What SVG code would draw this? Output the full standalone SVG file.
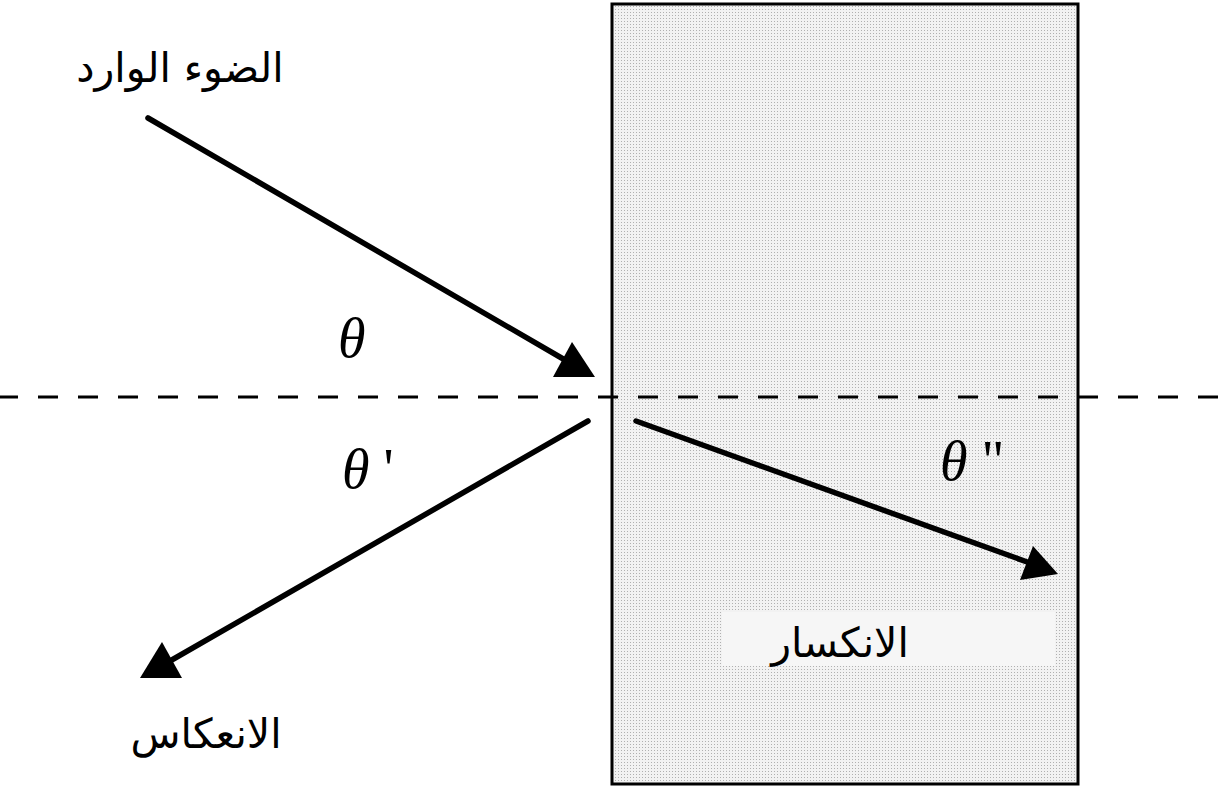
<svg xmlns="http://www.w3.org/2000/svg" width="1232" height="787" viewBox="0 0 1232 787">
<style>
.ray{stroke:#000;stroke-width:5.5;fill:none;stroke-linecap:round}
.head{fill:#000}
.ar{font-family:"DejaVu Sans",sans-serif;font-size:41px;fill:#000;text-anchor:middle}
.th{font-family:"Liberation Serif",serif;font-style:italic;font-size:56px;fill:#000}
.up{font-style:normal}
</style>
<defs>
<pattern id="dots" width="3" height="3" patternUnits="userSpaceOnUse">
<rect width="3" height="3" fill="#f2f2f2"/>
<rect width="1" height="1" fill="#b0b0b0"/>
</pattern>
</defs>
<rect width="1232" height="787" fill="#fff"/>
<g id="medium">
<rect x="612" y="4" width="466" height="780" fill="url(#dots)" stroke="#000" stroke-width="3"/>
<rect x="722" y="612" width="333" height="54" fill="#f6f6f6"/>
<text class="ar" x="840" y="657">الانكسار</text>
</g>
<g id="normal">
<line x1="0" y1="397" x2="1232" y2="397" stroke="#000" stroke-width="3" stroke-dasharray="20 20" stroke-dashoffset="2"/>
</g>
<g id="connectors">
<line class="ray" x1="148" y1="118" x2="565" y2="360"/>
<polygon class="head" points="595,377 553,377 572,342"/>
<line class="ray" x1="588" y1="421" x2="170" y2="661"/>
<polygon class="head" points="140,678 162,642 182,678"/>
<line class="ray" x1="636" y1="421" x2="1030" y2="563"/>
<polygon class="head" points="1058,574 1033,546 1020,580"/>
</g>
<g id="incident">
<text class="ar" x="180" y="82">الضوء الوارد</text>
</g>
<g id="reflection">
<text class="ar" x="206" y="748">الانعكاس</text>
</g>
<g id="angles">
<text class="th" x="338" y="357">θ</text>
<text class="th" x="342" y="488">θ <tspan class="up">'</tspan></text>
<text class="th" x="940" y="480">θ <tspan class="up">"</tspan></text>
</g>
</svg>
